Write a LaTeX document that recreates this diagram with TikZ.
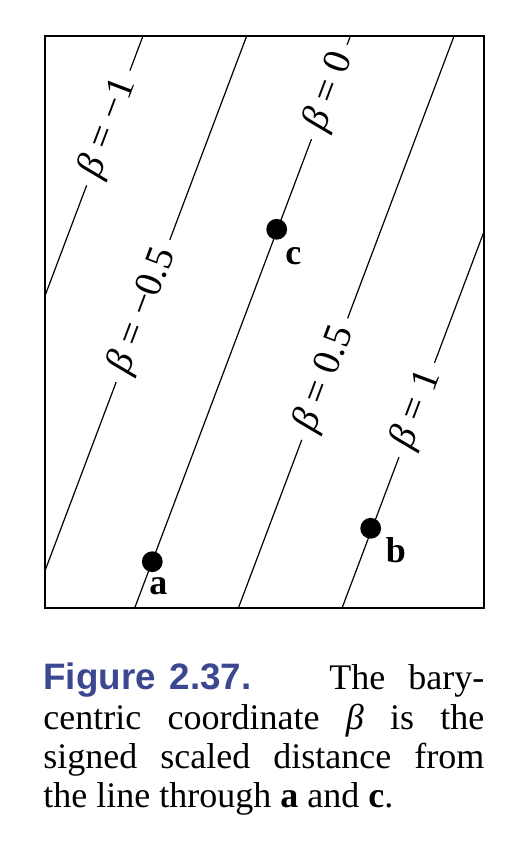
\documentclass[tikz,border=0pt]{standalone}
\usepackage{fontspec}
\setmainfont{Liberation Serif}
\newfontfamily\figfont{Liberation Sans}
\definecolor{figblue}{RGB}{59,71,144}
\tikzset{
  isoline/.style={line width=0.6pt},
  isolabel/.style={sloped,fill=white,inner xsep=5pt,inner ysep=0pt,font=\fontsize{19.5}{20}\selectfont},
  vertex/.style={circle,fill=black,inner sep=0pt,minimum size=10.4pt},
  vertexlabel/.style={inner sep=0pt,font=\fontsize{18}{20}\selectfont\bfseries},
}

\begin{document}
\begin{tikzpicture}[x=0.5pt,y=0.5pt]
\useasboundingbox (0,0) rectangle (524,842);

\draw[line width=1pt] (45,233.5) rectangle (483.5,805.5);
\begin{scope}
\clip (45,233.5) rectangle (483.5,805.5);
\foreach \b/\t/\txt in {-1/0.841/−1, -0.5/0.521/−0.5, 0/0.904/0, 0.5/0.402/0.5, 1/0.348/1}
  \draw[isoline] ({134.3+207.4*\b},233) -- ++(215.7,572) node[isolabel,pos=\t] {\textit{β} = \txt};
\end{scope}

\node[vertex] (a) at (152.3,280.3) {};
\node[vertex] (b) at (370.7,313.7) {};
\node[vertex] (c) at (276.7,612.7) {};
\node[vertexlabel] (la) at (158.3,255.3) {a};
\node[vertexlabel] (lb) at (396,292) {b};
\node[vertexlabel] (lc) at (293.3,586) {c};

\node[anchor=base west,inner sep=0pt,text width=220.5pt,align=justify,
  font=\fontsize{18}{19.65}\selectfont] (caption) at (43,152)
  {{\figfont\fontsize{18.4}{19.65}\selectfont\bfseries\color{figblue}Figure\hspace{7pt}2.37.}\hfill The\hspace{11.5pt}bary-\linebreak
   centric coordinate \textit{β} is the\linebreak
   signed scaled distance from\linebreak
   the line through \textbf{a} and \textbf{c}.};
\end{tikzpicture}
\end{document}
